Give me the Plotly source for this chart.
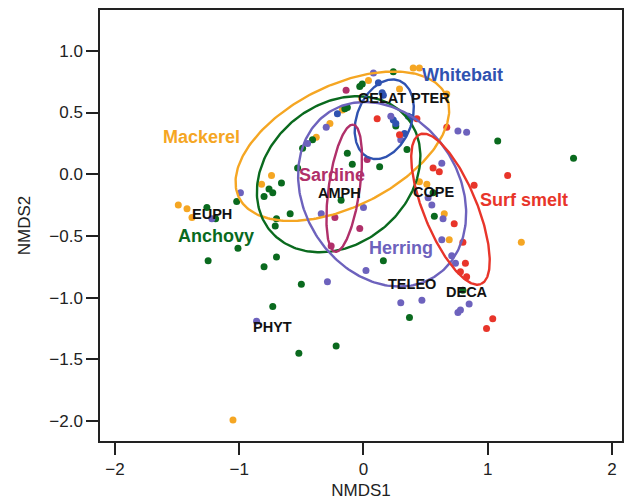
import numpy as np
import plotly.graph_objects as go

# ---- data (NMDS scores) ----
mackerel_x = [-1.49, -1.42, -1.38, -1.05, -0.82, -0.74, -0.38, -0.27, -0.17, 0.04, 0.29, 0.40, 0.45, 0.67, 0.45, 0.51, 0.65, 0.69, 1.27]
mackerel_y = [-0.25, -0.28, -0.35, -1.99, -0.08, -0.01, 0.30, 0.41, 0.52, 0.76, 0.69, 0.86, 0.86, 0.65, -0.06, -0.08, -0.32, -0.53, -0.55]

anchovy_x = [-1.26, -1.19, -1.25, -1.01, -1.02, -0.80, -0.76, -0.73, -0.66, -0.71, -0.70, -0.70, -0.80, -0.59, -0.53, -0.50, -0.73, -0.52, -0.22, -0.49, -0.41, -0.13, -0.15, -0.03, -0.01, -0.13, -0.09, -0.18, 0.13, 0.24, 0.26, 0.35, 1.08, 1.69, 0.57, 0.16, 0.37, 0.80, 0.56]
anchovy_y = [-0.27, -0.36, -0.70, -0.60, -0.22, -0.18, -0.12, -0.15, -0.07, -0.42, -0.36, -0.67, -0.75, -0.32, 0.05, -0.89, -1.07, -1.45, -1.39, 0.21, 0.28, 0.54, 0.53, 0.71, 0.73, 0.17, 0.08, -0.21, 0.06, 0.83, 0.39, 0.20, 0.27, 0.13, -0.34, -0.70, -1.16, -0.94, -0.15]

whitebait_x = [-0.21, 0.12, 0.15, 0.16, 0.24, 0.26, 0.36, 0.38, 0.33]
whitebait_y = [0.49, 0.74, 0.66, 0.64, 0.44, 0.41, 0.47, 0.46, 0.33]

herring_x = [-1.22, -0.99, -0.86, -0.45, -0.30, -0.34, -0.29, 0.00, 0.02, 0.08, 0.22, 0.30, 0.76, 0.83, 0.63, 0.52, 0.55, 0.64, 0.63, 0.71, 0.74, 0.30, 0.47, 0.85, 0.76, 0.78]
herring_y = [-0.36, -0.15, -1.19, 0.25, 0.38, -0.32, -0.87, -0.27, -0.78, 0.82, 0.47, 0.28, 0.35, 0.34, 0.09, -0.19, -0.25, -0.36, -0.53, -0.66, -0.72, -1.04, -1.02, -1.05, -1.12, -1.10]

sardine_x = [-0.14, 0.03, -0.23, -0.03, -0.26]
sardine_y = [0.68, 0.12, -0.35, -0.44, -0.58]

smelt_x = [0.11, 0.29, 0.43, 0.67, 0.56, 0.61, 0.89, 1.16, 0.73, 0.80, 0.82, 0.78, 0.83, 1.04, 0.99]
smelt_y = [0.45, 0.32, 0.45, 0.38, 0.05, 0.02, -0.09, -0.01, -0.40, -0.55, -0.72, -0.79, -0.83, -1.17, -1.25]

# ellipse parameters: centre x, centre y, semi-major, semi-minor, angle (deg)
groups = ["Mackerel", "Anchovy", "Whitebait", "Herring", "Sardine", "Surf smelt"]
colors = ["#f5a623", "#0a6a1e", "#2f52b0", "#6d62bd", "#b0306a", "#e8352a"]
ell_cx = [-0.17, -0.20, 0.167, 0.15, -0.155, 0.70]
ell_cy = [0.227, 0.0, 0.445, -0.162, -0.113, -0.283]
ell_a = [0.93, 0.716, 0.335, 0.79, 0.52, 0.654]
ell_b = [0.49, 0.565, 0.22, 0.626, 0.125, 0.215]
ell_ang = [26.7, 40.0, 69.0, -58.0, 82.0, -68.0]

group_label_x = [-1.30, -1.19, 0.80, 0.30, -0.25, 1.29]
group_label_y = [0.30, -0.50, 0.80, -0.60, -0.01, -0.21]

prey_labels = ["GELAT", "PTER", "AMPH", "COPE", "EUPH", "TELEO", "DECA", "PHYT"]
prey_x = [0.15, 0.54, -0.19, 0.56, -1.22, 0.39, 0.83, -0.73]
prey_y = [0.62, 0.62, -0.15, -0.14, -0.32, -0.89, -0.95, -1.24]

xs = [mackerel_x, anchovy_x, whitebait_x, herring_x, sardine_x, smelt_x]
ys = [mackerel_y, anchovy_y, whitebait_y, herring_y, sardine_y, smelt_y]

FONT = "Arial, Liberation Sans, sans-serif"

fig = go.Figure()
for g, c, x, y in zip(groups, colors, xs, ys):
    fig.add_trace(go.Scatter(x=x, y=y, mode="markers", name=g,
                             marker=dict(color=c, size=7, line=dict(width=0))))

t = np.linspace(0, 2 * np.pi, 240)
for c, cx, cy, a, b, ang in zip(colors, ell_cx, ell_cy, ell_a, ell_b, ell_ang):
    th = np.deg2rad(ang)
    ex = cx + a * np.cos(t) * np.cos(th) - b * np.sin(t) * np.sin(th)
    ey = cy + a * np.cos(t) * np.sin(th) + b * np.sin(t) * np.cos(th)
    fig.add_trace(go.Scatter(x=ex, y=ey, mode="lines",
                             line=dict(color=c, width=2.4), hoverinfo="skip"))

for g, c, lx, ly in zip(groups, colors, group_label_x, group_label_y):
    fig.add_annotation(x=lx, y=ly, text="<b>%s</b>" % g, showarrow=False,
                       font=dict(family=FONT, size=18, color=c),
                       xanchor="center", yanchor="middle")

for p, px, py in zip(prey_labels, prey_x, prey_y):
    fig.add_annotation(x=px, y=py, text="<b>%s</b>" % p, showarrow=False,
                       font=dict(family=FONT, size=14.5, color="#111111"),
                       xanchor="center", yanchor="middle")

axis_common = dict(showgrid=False, zeroline=False, showline=True, linecolor="#222222",
                   linewidth=1.5, mirror=True, ticks="outside", ticklen=12, tickwidth=1.5,
                   tickcolor="#222222", automargin=False,
                   tickfont=dict(family=FONT, size=17, color="#222222"))

fig.update_layout(
    width=625, height=504,
    margin=dict(l=100, r=3, t=10, b=63),
    paper_bgcolor="white", plot_bgcolor="white",
    showlegend=False,
    xaxis=dict(range=[-2.12, 2.08], tickvals=[-2, -1, 0, 1, 2],
               title=dict(text="NMDS1", font=dict(family=FONT, size=17, color="#222222"), standoff=6),
               **axis_common),
    yaxis=dict(range=[-2.16, 1.33], tickvals=[-2.0, -1.5, -1.0, -0.5, 0.0, 0.5, 1.0],
               tickformat=".1f",
               title=dict(text="NMDS2", font=dict(family=FONT, size=17, color="#222222"), standoff=14),
               **axis_common),
)

fig.write_html("out.html", config={"displayModeBar": False},
               post_script="document.body.style.margin='0';document.body.style.overflow='hidden';")
